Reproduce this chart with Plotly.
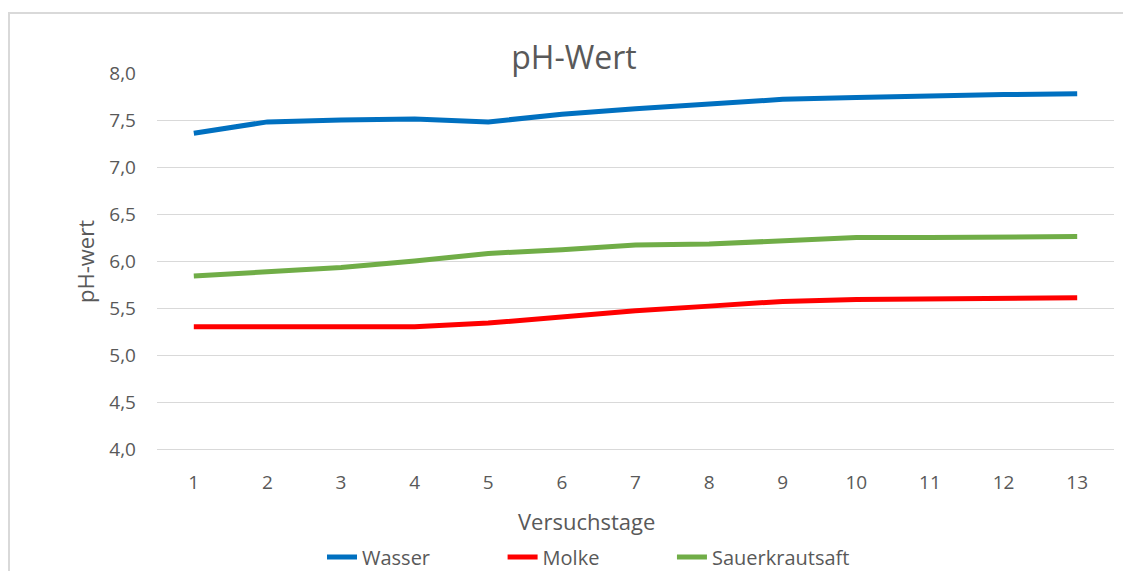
import plotly.graph_objects as go

tage = list(range(1, 14))
wasser = [7.36, 7.48, 7.50, 7.51, 7.48, 7.56, 7.62, 7.67, 7.72, 7.74, 7.76, 7.77, 7.78]
molke = [5.30, 5.30, 5.30, 5.30, 5.34, 5.41, 5.47, 5.52, 5.57, 5.59, 5.60, 5.60, 5.61]
sauerkrautsaft = [5.84, 5.88, 5.93, 6.00, 6.08, 6.12, 6.17, 6.18, 6.22, 6.25, 6.25, 6.26, 6.26]
y_ticks = [4.0, 4.5, 5.0, 5.5, 6.0, 6.5, 7.0, 7.5, 8.0]
series_names = ["Wasser", "Molke", "Sauerkrautsaft"]

FONT = "Open Sans"
TXT = "#595959"
GRID = "#D9D9D9"
PAD = "\u00a0" * 13  # spacing between legend entries

fig = go.Figure()
for i, (name, vals, col) in enumerate(zip(series_names,
                                          [wasser, molke, sauerkrautsaft],
                                          ["#0070C0", "#FF0000", "#70AD47"])):
    label = name + (PAD if i < len(series_names) - 1 else "")
    fig.add_trace(go.Scatter(x=tage, y=vals, name=label, mode="lines",
                             line=dict(color=col, width=5)))

# page body has an 8px margin: work in screen coordinates and shift
OFF = 8
W, H = 1131, 571
PL, PR, PT, PB = 157, 1114, 73, 449  # plot area in screen px
L, T = PL - OFF, PT - OFF
R = W - (PR - OFF)
B = H - (PB - OFF)
pw, ph = PR - PL, PB - PT

def px_x(x):
    return (x - PL) / pw

def px_y(y):
    return (PB - y) / ph

fig.update_layout(
    width=W, height=H,
    margin=dict(l=L, r=R, t=T, b=B, pad=0),
    paper_bgcolor="white", plot_bgcolor="white",
    separators=",.",
    font=dict(family=FONT, color=TXT, size=19),
    title=dict(text="pH-Wert", x=(574 - OFF) / W, xanchor="center",
               y=1 - (58 - OFF) / H, yanchor="middle", yref="container", xref="container",
               font=dict(size=32, color=TXT, family=FONT)),
    showlegend=True,
    legend=dict(orientation="h", xref="container", yref="container",
                x=(322 - OFF) / W, xanchor="left", y=1 - (557 - OFF) / H, yanchor="middle",
                font=dict(size=20, color=TXT, family=FONT),
                bgcolor="rgba(0,0,0,0)"),
    xaxis=dict(range=[0.5, 13.5], tickvals=tage, ticktext=[str(t) for t in tage],
               showgrid=False, zeroline=False, showline=True, linecolor=GRID,
               linewidth=1, ticks="", ticklabelstandoff=16,
               tickfont=dict(size=19, color=TXT, family=FONT), fixedrange=True),
    yaxis=dict(range=[4, 8], tickvals=y_ticks, tickformat=".1f",
               showgrid=True, gridcolor=GRID, gridwidth=1, zeroline=False,
               showline=False, ticks="", ticklabelstandoff=20,
               tickfont=dict(size=19, color=TXT, family=FONT), fixedrange=True),
    annotations=[
        dict(text="Versuchstage", xref="paper", yref="paper",
             x=px_x(586), y=px_y(521), xanchor="center", yanchor="middle",
             showarrow=False, font=dict(size=22, color=TXT, family=FONT)),
        dict(text="pH-wert", xref="paper", yref="paper", textangle=-90,
             x=px_x(85), y=px_y(262), xanchor="center", yanchor="middle",
             showarrow=False, font=dict(size=22, color=TXT, family=FONT)),
    ],
    shapes=[
        dict(type="rect", xref="paper", yref="paper",
             x0=px_x(9), x1=px_x(1150), y0=px_y(13), y1=px_y(590),
             line=dict(color=GRID, width=2), fillcolor="rgba(0,0,0,0)",
             layer="below"),
    ],
)

fig.write_html("out.html")
